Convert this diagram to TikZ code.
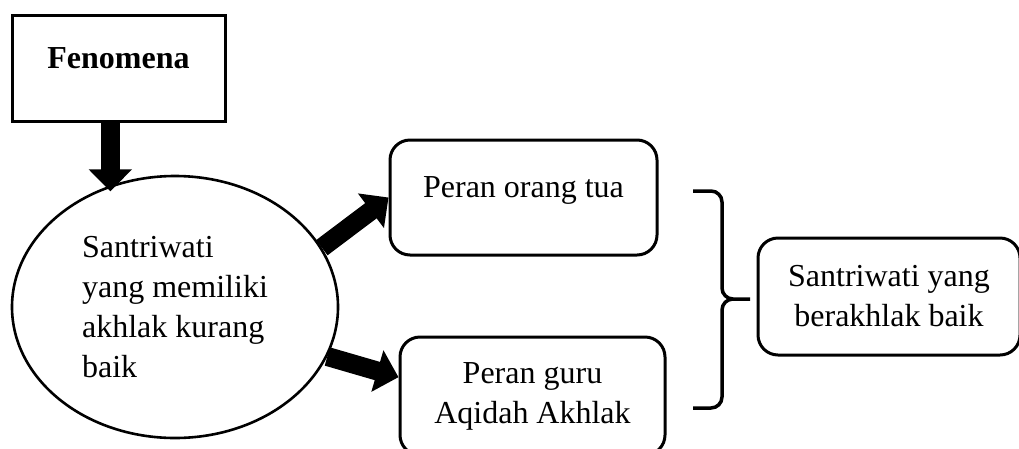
\documentclass[tikz,border=0pt]{standalone}
\usepackage{fontspec}
\setmainfont{Liberation Serif}
\usetikzlibrary{shapes.geometric,arrows.meta}
\tikzset{%
  box/.style      = {shape=rectangle, draw, line width=3pt, align=center},%
  phenbox/.style  = {box, minimum width=213pt, minimum height=106pt},%
  rolebox/.style  = {box, rounded corners=20pt, minimum height=117pt},%
  oneline/.style  = {text height=22pt, text depth=22pt},%
  oval/.style     = {shape=ellipse, draw, line width=2.6pt, align=left,%
                     minimum width=326pt, minimum height=262pt},%
  bigarrow/.style = {line width=19pt, -{Triangle[width=42pt,length=22pt]}}%
}

\begin{document}
\begin{tikzpicture}[x=1pt, y=-1pt, every node/.style = {font=\fontsize{32}{40}\selectfont}]%
  \useasboundingbox (0,0) rectangle (1019,448);%
  % nodes
  \node [phenbox, oneline] (fenomena) at (118.5,68) {\textbf{Fenomena}};%
  \node [oval] (santri) at (175,307) {Santriwati\\yang memiliki\\akhlak kurang\\baik};%
  \node [rolebox, oneline, minimum width=267pt, minimum height=115pt] (orangtua) at (523.5,197.5) {Peran orang tua};%
  \node [rolebox, minimum width=265pt, minimum height=118pt] (guru) at (532.5,396) {Peran guru\\Aqidah Akhlak};%
  \node [rolebox, minimum width=262pt] (hasil) at (889,296.5) {Santriwati yang\\berakhlak baik};%
  % arrows
  \draw [bigarrow, shorten >=-6pt] (fenomena.south -| santri.118) -- (santri.118);%
  \draw [bigarrow] (santri.22) -- (orangtua.west);%
  \draw [bigarrow] (santri.-18) -- (guru.172);%
  % brace
  \draw [line width=3.5pt, rounded corners=11pt] (693,191) -- (722,191) -- (722,299) -- (750,299)%
        (750,299) -- (722,299) -- (722,408) -- (693,408);%
\end{tikzpicture}
\end{document}
